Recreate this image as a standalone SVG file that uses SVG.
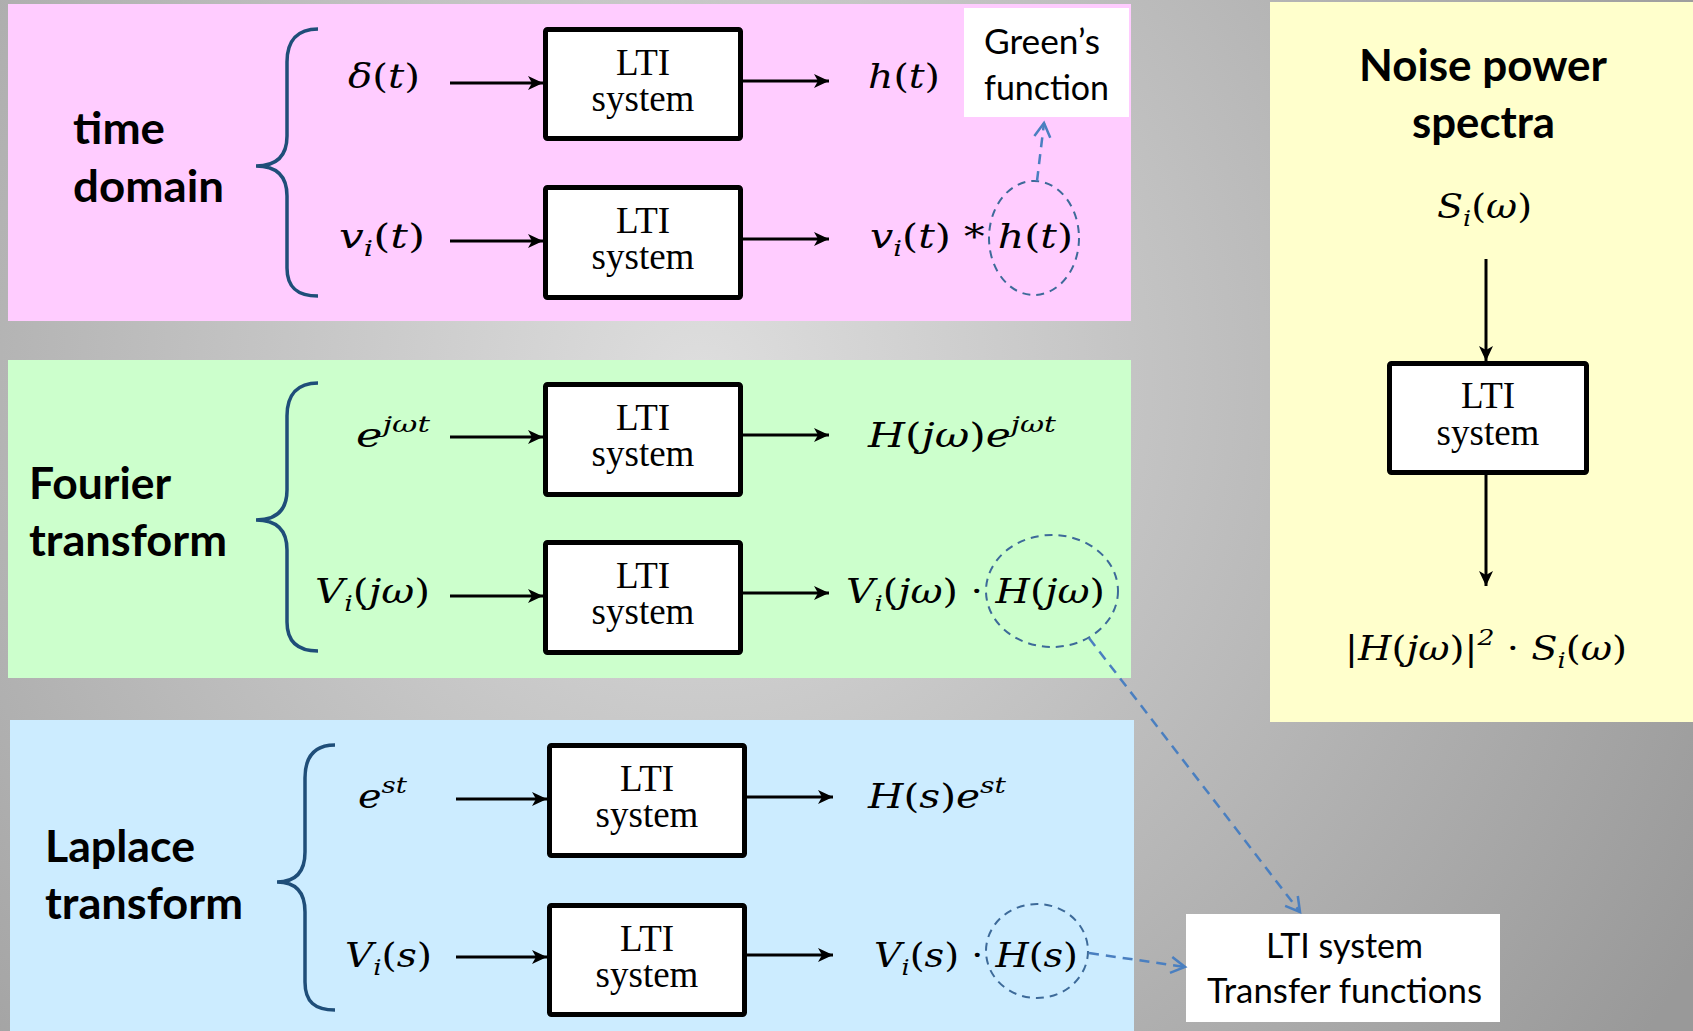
<svg xmlns="http://www.w3.org/2000/svg" width="1693" height="1031" viewBox="0 0 1693 1031">
<style>
.lbl{font-family:Lato,"Liberation Sans",sans-serif;font-weight:bold;font-size:44px;fill:#000}
.reg{font-family:Lato,"Liberation Sans",sans-serif;font-size:34px;fill:#000}
.box{fill:#fff;stroke:#000;stroke-width:5}
.bt{font-family:"Liberation Serif","Times New Roman",serif;font-size:37px;fill:#000;text-anchor:middle}
.m{font-family:"DejaVu Serif","Liberation Serif",serif;font-size:33px;fill:#000}
.it{font-style:italic}
.sub{font-size:22px;font-style:italic}
.sup{font-size:23px;font-style:italic}
.arr{stroke:#000;stroke-width:3;fill:none;marker-end:url(#ah)}
.brace{stroke:#1f4e79;stroke-width:3.5;fill:none}
.ell{stroke:#3d6a99;stroke-width:2;fill:none;stroke-dasharray:8 6}
.dash{stroke:#4a7fc0;stroke-width:2.5;fill:none;stroke-dasharray:10 7;marker-end:url(#oh)}
</style>
<defs>
<radialGradient id="bg" gradientUnits="userSpaceOnUse" cx="700" cy="380" r="1150">
<stop offset="0" stop-color="#dedede"/>
<stop offset="1" stop-color="#999999"/>
</radialGradient>
<marker id="ah" markerUnits="userSpaceOnUse" markerWidth="16" markerHeight="14" refX="15" refY="7" orient="auto">
<path d="M0,0 L15,7 L0,14 L4,7 Z" fill="#000"/>
</marker>
<marker id="oh" markerUnits="userSpaceOnUse" markerWidth="18" markerHeight="20" refX="15" refY="10" orient="auto">
<path d="M1,2 L15,10 L1,18" fill="none" stroke="#4a7fc0" stroke-width="2.5"/>
</marker>
</defs>
<rect width="1693" height="1031" fill="url(#bg)"/>

<g id="panel-time">
<rect x="8" y="4" width="1123" height="317" fill="#ffccff"/>
<text class="lbl" x="73" y="144" textLength="92" lengthAdjust="spacingAndGlyphs">time</text>
<text class="lbl" x="73" y="202" textLength="151" lengthAdjust="spacingAndGlyphs">domain</text>
</g>
<g id="panel-fourier">
<rect x="8" y="360" width="1123" height="318" fill="#ccffcc"/>
<text class="lbl" x="29" y="499" textLength="142" lengthAdjust="spacingAndGlyphs">Fourier</text>
<text class="lbl" x="29" y="556" textLength="198" lengthAdjust="spacingAndGlyphs">transform</text>
</g>
<g id="panel-laplace">
<rect x="10" y="720" width="1124" height="311" fill="#ccecff"/>
<text class="lbl" x="45" y="862" textLength="150" lengthAdjust="spacingAndGlyphs">Laplace</text>
<text class="lbl" x="45" y="919" textLength="198" lengthAdjust="spacingAndGlyphs">transform</text>
</g>
<g id="panel-noise">
<rect x="1270" y="2" width="423" height="720" fill="#ffffcc"/>
<text class="lbl" x="1359" y="81" textLength="248" lengthAdjust="spacingAndGlyphs">Noise power</text>
<text class="lbl" x="1412" y="138" textLength="143" lengthAdjust="spacingAndGlyphs">spectra</text>
</g>

<g id="braces">
<path class="brace" d="M318,29 C298,29 287,40 287,62 L287,136 C287,156 277,166 256,166 C277,166 287,176 287,196 L287,268 C287,288 298,296 318,296"/>
<path class="brace" d="M318,383 C298,383 287,394 287,416 L287,490 C287,510 277,520 256,520 C277,520 287,530 287,550 L287,622 C287,642 298,651 318,651"/>
<path class="brace" d="M335,745 C315,745 305,756 305,778 L305,852 C305,872 296,882 277,882 C296,882 305,892 305,912 L305,982 C305,1002 315,1010 335,1010"/>
</g>

<g id="lti-t1"><rect class="box" x="545.5" y="29.5" width="195" height="109" rx="2"/><text class="bt"><tspan x="643" y="75">LTI</tspan><tspan x="643" y="111">system</tspan></text></g>
<g id="lti-t2"><rect class="box" x="545.5" y="187.5" width="195" height="110" rx="2"/><text class="bt"><tspan x="643" y="233">LTI</tspan><tspan x="643" y="269">system</tspan></text></g>
<g id="lti-f1"><rect class="box" x="545.5" y="384.5" width="195" height="110" rx="2"/><text class="bt"><tspan x="643" y="430">LTI</tspan><tspan x="643" y="466">system</tspan></text></g>
<g id="lti-f2"><rect class="box" x="545.5" y="542.5" width="195" height="110" rx="2"/><text class="bt"><tspan x="643" y="588">LTI</tspan><tspan x="643" y="624">system</tspan></text></g>
<g id="lti-l1"><rect class="box" x="549.5" y="745.5" width="195" height="110" rx="2"/><text class="bt"><tspan x="647" y="791">LTI</tspan><tspan x="647" y="827">system</tspan></text></g>
<g id="lti-l2"><rect class="box" x="549.5" y="905.5" width="195" height="109" rx="2"/><text class="bt"><tspan x="647" y="951">LTI</tspan><tspan x="647" y="987">system</tspan></text></g>
<g id="lti-n"><rect class="box" x="1389.5" y="363.5" width="197" height="109" rx="2"/><text class="bt"><tspan x="1488" y="408">LTI</tspan><tspan x="1488" y="445">system</tspan></text></g>

<g id="green-box"><rect x="964" y="8" width="165" height="109" fill="#fff"/>
<text class="reg" x="984" y="54" textLength="116" lengthAdjust="spacingAndGlyphs">Green’s</text>
<text class="reg" x="984" y="100" textLength="125" lengthAdjust="spacingAndGlyphs">function</text></g>
<g id="tf-box"><rect x="1186" y="914" width="314" height="108" fill="#fff"/>
<text class="reg" x="1266" y="958" textLength="157" lengthAdjust="spacingAndGlyphs">LTI system</text>
<text class="reg" x="1207" y="1003" textLength="275" lengthAdjust="spacingAndGlyphs">Transfer functions</text></g>

<g id="math">
<text class="m" x="348" y="88" textLength="72" lengthAdjust="spacingAndGlyphs"><tspan class="it">δ</tspan>(<tspan class="it">t</tspan>)</text>
<text class="m" x="339" y="248" textLength="86" lengthAdjust="spacingAndGlyphs"><tspan class="it">v</tspan><tspan class="sub" dy="8">i</tspan><tspan dy="-8">(</tspan><tspan class="it">t</tspan>)</text>
<text class="m" x="868" y="88" textLength="72" lengthAdjust="spacingAndGlyphs"><tspan class="it">h</tspan>(<tspan class="it">t</tspan>)</text>
<text class="m" x="870" y="248" textLength="203" lengthAdjust="spacingAndGlyphs"><tspan class="it">v</tspan><tspan class="sub" dy="8">i</tspan><tspan dy="-8">(</tspan><tspan class="it">t</tspan>) * <tspan class="it">h</tspan>(<tspan class="it">t</tspan>)</text>

<text class="m" x="356" y="447" textLength="74" lengthAdjust="spacingAndGlyphs"><tspan class="it">e</tspan><tspan class="sup" dy="-15">jωt</tspan></text>
<text class="m" x="315" y="603" textLength="115" lengthAdjust="spacingAndGlyphs"><tspan class="it">V</tspan><tspan class="sub" dy="8">i</tspan><tspan dy="-8">(</tspan><tspan class="it">jω</tspan>)</text>
<text class="m" x="868" y="447" textLength="188" lengthAdjust="spacingAndGlyphs"><tspan class="it">H</tspan>(<tspan class="it">jω</tspan>)<tspan class="it">e</tspan><tspan class="sup" dy="-15">jωt</tspan></text>
<text class="m" x="846" y="603" textLength="259" lengthAdjust="spacingAndGlyphs"><tspan class="it">V</tspan><tspan class="sub" dy="8">i</tspan><tspan dy="-8">(</tspan><tspan class="it">jω</tspan>) · <tspan class="it">H</tspan>(<tspan class="it">jω</tspan>)</text>

<text class="m" x="358" y="808" textLength="49" lengthAdjust="spacingAndGlyphs"><tspan class="it">e</tspan><tspan class="sup" dy="-15">st</tspan></text>
<text class="m" x="345" y="967" textLength="87" lengthAdjust="spacingAndGlyphs"><tspan class="it">V</tspan><tspan class="sub" dy="8">i</tspan><tspan dy="-8">(</tspan><tspan class="it">s</tspan>)</text>
<text class="m" x="868" y="808" textLength="138" lengthAdjust="spacingAndGlyphs"><tspan class="it">H</tspan>(<tspan class="it">s</tspan>)<tspan class="it">e</tspan><tspan class="sup" dy="-15">st</tspan></text>
<text class="m" x="874" y="967" textLength="204" lengthAdjust="spacingAndGlyphs"><tspan class="it">V</tspan><tspan class="sub" dy="8">i</tspan><tspan dy="-8">(</tspan><tspan class="it">s</tspan>) · <tspan class="it">H</tspan>(<tspan class="it">s</tspan>)</text>

<text class="m" x="1437" y="218" textLength="95" lengthAdjust="spacingAndGlyphs"><tspan class="it">S</tspan><tspan class="sub" dy="8">i</tspan><tspan dy="-8">(</tspan><tspan class="it">ω</tspan>)</text>
<text class="m" x="1345" y="660" textLength="282" lengthAdjust="spacingAndGlyphs">|<tspan class="it">H</tspan>(<tspan class="it">jω</tspan>)|<tspan class="sup" dy="-15" font-style="normal">2</tspan><tspan dy="15"> · </tspan><tspan class="it">S</tspan><tspan class="sub" dy="8">i</tspan><tspan dy="-8">(</tspan><tspan class="it">ω</tspan>)</text>
</g>

<g id="connectors">
<line class="arr" x1="450" y1="83" x2="543" y2="83"/>
<line class="arr" x1="743" y1="81" x2="829" y2="81"/>
<line class="arr" x1="450" y1="241" x2="543" y2="241"/>
<line class="arr" x1="743" y1="239" x2="829" y2="239"/>
<line class="arr" x1="450" y1="437" x2="543" y2="437"/>
<line class="arr" x1="743" y1="435" x2="829" y2="435"/>
<line class="arr" x1="450" y1="596" x2="543" y2="596"/>
<line class="arr" x1="743" y1="593" x2="829" y2="593"/>
<line class="arr" x1="456" y1="799" x2="547" y2="799"/>
<line class="arr" x1="747" y1="797" x2="833" y2="797"/>
<line class="arr" x1="456" y1="957" x2="547" y2="957"/>
<line class="arr" x1="747" y1="955" x2="833" y2="955"/>
<line class="arr" x1="1486" y1="259" x2="1486" y2="361"/>
<line class="arr" x1="1486" y1="475" x2="1486" y2="586"/>
<ellipse class="ell" cx="1034" cy="238" rx="45" ry="57"/>
<ellipse class="ell" cx="1052" cy="591" rx="66" ry="56"/>
<ellipse class="ell" cx="1037" cy="951" rx="51" ry="47"/>
<line class="dash" x1="1037" y1="181" x2="1044" y2="123"/>
<line class="dash" x1="1089" y1="638" x2="1300" y2="912"/>
<line class="dash" x1="1089" y1="953" x2="1185" y2="967"/>
</g>
</svg>
